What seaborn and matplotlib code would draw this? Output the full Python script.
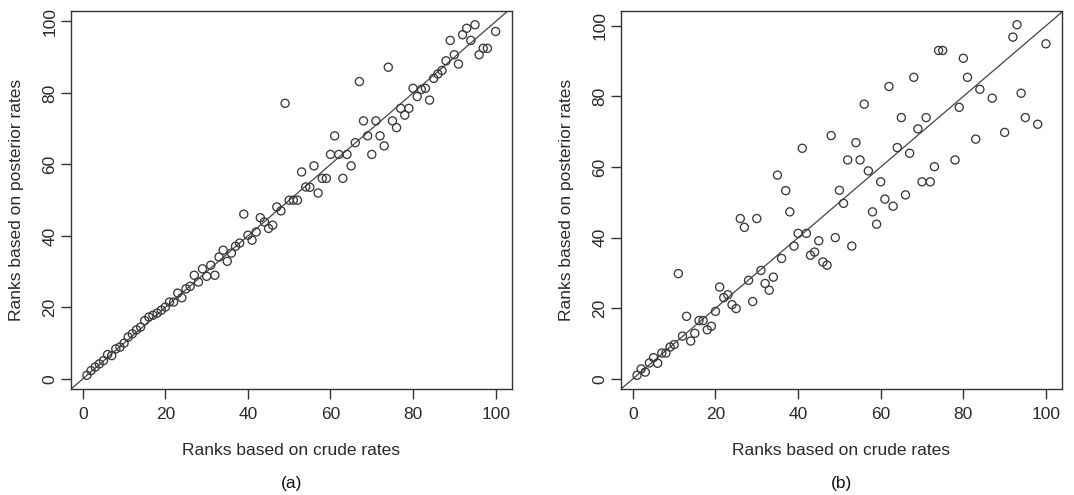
import matplotlib
matplotlib.use("Agg")
import matplotlib.pyplot as plt
import numpy as np
import pandas as pd
import seaborn as sns

# =========================
# データ (図から読み取った順位)
# =========================

a_crude = [1, 2, 3, 4, 5, 6, 7, 8, 9, 10, 11, 12, 13, 14, 15, 16, 17, 18, 19, 20,
           21, 22, 23, 24, 25, 26, 27, 28, 29, 30, 31, 32, 33, 34, 35, 36, 37, 38, 39, 40,
           41, 42, 43, 44, 45, 46, 47, 48, 49, 50, 51, 52, 53, 54, 55, 56, 57, 58, 59, 60,
           61, 62, 63, 64, 65, 66, 67, 68, 69, 70, 71, 72, 73, 74, 75, 76, 77, 78, 79, 80,
           81, 82, 83, 84, 85, 86, 87, 88, 89, 90, 91, 92, 93, 94, 95, 96, 97, 98, 100]
a_post = [1, 2.3, 3.3, 4.2, 5.1, 6.8, 6.5, 8.4, 8.9, 10, 11.7, 12.6, 13.7, 14.5, 16.3, 17.3, 17.8, 18.4, 19.2, 20.1,
          21.5, 21.5, 24, 22.7, 25.2, 25.9, 29, 27.1, 30.8, 28.7, 31.8, 29, 34.1, 36, 32.9, 35.2, 37.1, 38, 46.1, 40.2,
          38.8, 41.1, 45.1, 43.9, 42.1, 43, 48.1, 47, 77.1, 50, 50, 50, 57.9, 53.7, 53.6, 59.6, 52, 56.1, 56.1, 62.8,
          68, 62.8, 56.1, 62.8, 59.6, 66.1, 83.2, 72.2, 68, 62.8, 72.2, 68, 65.2, 87.2, 72.2, 70.3, 75.7, 73.8, 75.7, 81.3,
          79, 81, 81.3, 78, 84.1, 85.3, 86.3, 89, 94.7, 90.7, 88.1, 96.3, 98.1, 94.7, 99.1, 90.7, 92.5, 92.5, 97.2]

b_crude = [1, 2, 3, 4, 5, 6, 7, 8, 9, 10, 11, 12, 13, 14, 15, 16, 17, 18, 19, 20,
           21, 22, 23, 24, 25, 26, 27, 28, 29, 30, 31, 32, 33, 34, 35, 36, 37, 38, 39, 40,
           41, 42, 43, 44, 45, 46, 47, 48, 49, 50, 51, 52, 53, 54, 55, 56, 57, 58, 59, 60,
           61, 62, 63, 64, 65, 66, 67, 68, 69, 70, 71, 72, 73, 74, 75, 78, 79, 80, 81, 83,
           84, 87, 90, 92, 93, 94, 95, 98, 100]
b_post = [1, 2.8, 1.9, 4.5, 6, 4.4, 7.3, 7.3, 9, 9.7, 29.8, 12.1, 17.7, 10.7, 12.9, 16.5, 16.5, 13.9, 14.9, 19.1,
          26, 23, 23.8, 21, 19.9, 45.4, 42.9, 27.9, 21.9, 45.4, 30.7, 27, 25.1, 28.8, 57.7, 34.1, 53.3, 47.3, 37.6, 41.2,
          65.3, 41.2, 35, 35.9, 39.1, 33.1, 32.2, 68.9, 40, 53.4, 49.7, 62, 37.6, 66.9, 62, 77.8, 58.9, 47.3, 43.8, 55.8,
          50.9, 82.8, 48.9, 65.5, 74, 52.1, 63.9, 85.4, 70.8, 55.8, 74, 55.8, 60.1, 93, 93, 62, 76.9, 90.8, 85.4, 67.9,
          82, 79.5, 69.8, 96.8, 100.3, 80.9, 74, 72.1, 94.9]

panels = [
    ("(a)", a_crude, a_post),
    ("(b)", b_crude, b_post),
]

# =========================
# スタイル (R の base graphics 風)
# =========================

sns.set_style("ticks")
plt.rcParams["font.family"] = ["Liberation Sans", "DejaVu Sans"]

edge = "#3a3a3a"
txt = "#2a2a2a"
fs = 12.5

fig = plt.figure(figsize=(10.74, 4.95), dpi=100)
boxes = [
    [0.0657, 0.2135, 0.4110, 0.7649],
    [0.5779, 0.2135, 0.4112, 0.7649],
]


def r_range(v):
    # R の既定 (範囲 ±4%)
    lo, hi = min(v), max(v)
    pad = 0.04 * (hi - lo)
    return lo - pad, hi + pad


for (tag, crude, post), box in zip(panels, boxes):
    ax = fig.add_axes(box)
    df = pd.DataFrame({"crude": crude, "post": post})
    sns.scatterplot(data=df, x="crude", y="post", ax=ax, s=34,
                    facecolors="none", edgecolor=edge, linewidth=0.95,
                    color=edge, legend=False, zorder=3)
    ax.axline((0, 0), slope=1, color="#444444", linewidth=0.9, zorder=2)

    ax.set_xlim(*r_range(crude))
    ax.set_ylim(*r_range(post))
    ax.set_xticks(np.arange(0, 101, 20))
    ax.set_yticks(np.arange(0, 101, 20))

    for sp in ax.spines.values():
        sp.set_color("#333333")
        sp.set_linewidth(1.0)
        sp.set_visible(True)

    ax.tick_params(axis="both", direction="out", length=7.5, width=1.0,
                   color="#333333", labelsize=fs, labelcolor=txt)
    ax.tick_params(axis="x", pad=5.5)
    ax.tick_params(axis="y", pad=2)
    for lab in ax.get_yticklabels():
        lab.set_rotation(90)
        lab.set_va("center")

    ax.set_xlabel("Ranks based on crude rates", fontsize=fs, color=txt, labelpad=15)
    ax.set_ylabel("Ranks based on posterior rates", fontsize=fs, color=txt, labelpad=13)

    ax.text(0.5, -0.25, tag, transform=ax.transAxes, ha="center", va="center",
            fontsize=fs, color="#111111")

fig.savefig("out.png", dpi=100, facecolor="white")
